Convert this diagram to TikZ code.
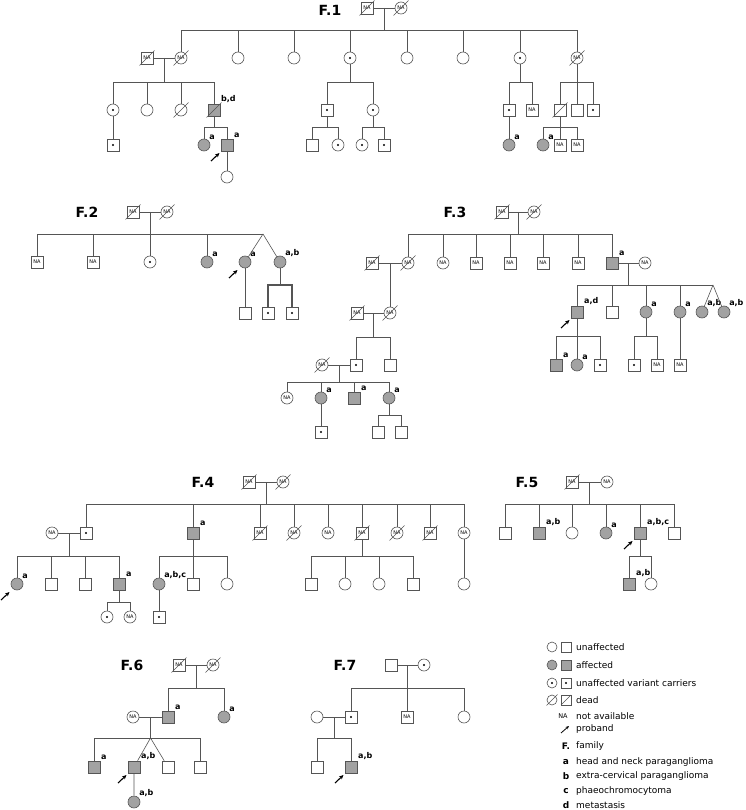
\documentclass[tikz,border=0pt]{standalone}
\usepackage{fontspec}
\setmainfont{DejaVu Sans}
\usetikzlibrary{arrows.meta,calc}

\definecolor{lnc}{HTML}{555555}
\definecolor{affc}{HTML}{A2A2A2}

\tikzset{
  pline/.style={draw=lnc, line width=0.6pt},
  thk/.style={draw=lnc, line width=1.2pt},
  ind/.style={draw=lnc, line width=0.6pt, fill=white, inner sep=0pt,
    minimum size=12pt, font=\fontsize{5}{5}\selectfont},
  male/.style={ind, rectangle},
  female/.style={ind, circle},
  aff/.style={fill=affc},
  car/.style={path picture={\fill[black] (path picture bounding box.center) circle (1.1pt);}},
  dead/.style={append after command={
    ([shift={(-#1,-#1)}]\tikzlastnode.center) edge[pline]
    ([shift={(#1,#1)}]\tikzlastnode.center)}},
  dead/.default=7.5pt,
  parrow/.style={-{Stealth[length=4.5pt,width=4pt]}, line width=1.1pt, black},
  proband/.style={append after command={
    ([shift={(-16pt,-16pt)}]\tikzlastnode.center) edge[parrow]
    ([shift={(-7.5pt,-8pt)}]\tikzlastnode.center)}},
  lab/.style={font=\bfseries\fontsize{8}{8}\selectfont, inner sep=0.6pt},
  ttl/.style={font=\bfseries\fontsize{14}{14}\selectfont},
  lsym/.style={minimum size=10pt},
  leg/.style={font=\fontsize{9}{9}\selectfont, anchor=west, inner sep=0pt},
}

\begin{document}
\begin{tikzpicture}[x=1pt,y=-1pt]
\useasboundingbox[fill=white] (0,0) rectangle (745,810);

% F.1
\node[ttl] (f1t) at (330,10) {F.1};
\node[male,dead] (f1a) at (367,8) {NA};
\node[female,dead] (f1b) at (401,8) {NA};
\node[male,dead] (f1s1) at (147,58) {NA};
\node[female,dead] (f1c1) at (181,58) {NA};
\node[female] (f1c2) at (238,58) {};
\node[female] (f1c3) at (294,58) {};
\node[female,car] (f1c4) at (350,58) {};
\node[female] (f1c5) at (407,58) {};
\node[female] (f1c6) at (463,58) {};
\node[female,car] (f1c7) at (520,58) {};
\node[female,dead] (f1c8) at (577,58) {NA};
\coordinate (f1j) at ($(f1a)!0.5!(f1b)+(0,22)$);
\draw[pline] (f1a) -- (f1b) ($(f1a)!0.5!(f1b)$) -- (f1j) (f1c1 |- f1j) -- (f1c8 |- f1j);
\foreach \k in {1,...,8} \draw[pline] (f1c\k) -- (f1c\k |- f1j);
% F.1 branch of first daughter
\node[female,car] (f1d1) at (113,110) {};
\node[female] (f1d2) at (147,110) {};
\node[female,dead] (f1d3) at (181,110) {};
\node[male,aff,dead,label={[lab]45:{b,d}}] (f1d4) at (214,110) {};
\coordinate (f1k) at ($(f1s1)!0.5!(f1c1)+(0,24)$);
\draw[pline] (f1s1) -- (f1c1) ($(f1s1)!0.5!(f1c1)$) -- (f1k) (f1d1 |- f1k) -- (f1d4 |- f1k);
\foreach \k in {1,...,4} \draw[pline] (f1d\k) -- (f1d\k |- f1k);
\node[male,car] (f1e1) at (113,145) {};
\node[female,aff,label={[lab]45:a}] (f1e2) at (204,145) {};
\node[male,aff,proband,label={[lab]45:a}] (f1e3) at (227,145) {};
\node[female] (f1f1) at (227,177) {};
\coordinate (f1l) at ($(f1d4)+(0,17)$);
\draw[pline] (f1d1) -- (f1e1) (f1e3) -- (f1f1) (f1d4) -- (f1l) (f1e2 |- f1l) -- (f1e3 |- f1l);
\foreach \k in {f1e2,f1e3} \draw[pline] (\k) -- (\k |- f1l);
% F.1 carrier daughter
\node[male,car] (f1d5) at (327,110) {};
\node[female,car] (f1d6) at (373,110) {};
\coordinate (f1m) at ($(f1c4)+(0,24)$);
\draw[pline] (f1c4) -- (f1m) (f1d5 |- f1m) -- (f1d6 |- f1m);
\foreach \k in {f1d5,f1d6} \draw[pline] (\k) -- (\k |- f1m);
\node[male] (f1e4) at (312,145) {};
\node[female,car] (f1e5) at (338,145) {};
\node[female,car] (f1e6) at (362,145) {};
\node[male,car] (f1e7) at (384,145) {};
\coordinate (f1n) at ($(f1d5)+(0,17)$);
\coordinate (f1o) at ($(f1d6)+(0,17)$);
\draw[pline] (f1d5) -- (f1n) (f1e4 |- f1n) -- (f1e5 |- f1n) (f1d6) -- (f1o) (f1e6 |- f1o) -- (f1e7 |- f1o);
\foreach \k in {f1e4,f1e5,f1e6,f1e7} \draw[pline] (\k) -- (\k |- f1n);
% F.1 second carrier daughter
\node[male,car] (f1d7) at (509,110) {};
\node[male] (f1d8) at (532,110) {NA};
\node[female,aff,label={[lab]45:a}] (f1e8) at (509,145) {};
\coordinate (f1p) at ($(f1c7)+(0,24)$);
\draw[pline] (f1c7) -- (f1p) (f1d7 |- f1p) -- (f1d8 |- f1p) (f1d7) -- (f1e8);
\foreach \k in {f1d7,f1d8} \draw[pline] (\k) -- (\k |- f1p);
% F.1 last daughter
\node[male,dead] (f1d9) at (560,110) {};
\node[male] (f1d10) at (577,110) {};
\node[male,car] (f1d11) at (593,110) {};
\coordinate (f1q) at ($(f1c8)+(0,24)$);
\draw[pline] (f1c8) -- (f1q) (f1d9 |- f1q) -- (f1d11 |- f1q);
\foreach \k in {f1d9,f1d10,f1d11} \draw[pline] (\k) -- (\k |- f1q);
\node[female,aff,label={[lab]45:a}] (f1e9) at (543,145) {};
\node[male] (f1e10) at (560,145) {NA};
\node[male] (f1e11) at (577,145) {NA};
\coordinate (f1r) at ($(f1d9)+(0,17)$);
\draw[pline] (f1d9) -- (f1e10) (f1e9 |- f1r) -- (f1e11 |- f1r);
\foreach \k in {f1e9,f1e11} \draw[pline] (\k) -- (\k |- f1r);

% F.2
\node[ttl] (f2t) at (87,212) {F.2};
\node[male,dead] (f2a) at (133,212) {NA};
\node[female,dead] (f2b) at (167,212) {NA};
\node[male] (f2c1) at (37,262) {NA};
\node[male] (f2c2) at (93,262) {NA};
\node[female,car] (f2c3) at (150,262) {};
\node[female,aff,label={[lab]45:a}] (f2c4) at (207,262) {};
\node[female,aff,proband,label={[lab]45:a}] (f2c5) at (245,262) {};
\node[female,aff,label={[lab]45:{a,b}}] (f2c6) at (280,262) {};
\coordinate (f2j) at ($(f2a)!0.5!(f2b)+(0,22)$);
\coordinate (f2t2) at (263,234);
\draw[pline] (f2a) -- (f2b) ($(f2a)!0.5!(f2b)$) -- (f2j) (f2c1 |- f2j) -- (f2t2);
\foreach \k in {1,...,4} \draw[pline] (f2c\k) -- (f2c\k |- f2j);
\draw[pline] (f2t2) -- (f2c5) (f2t2) -- (f2c6);
\node[male] (f2d1) at (245,313) {};
\node[male,car] (f2d2) at (268,313) {};
\node[male,car] (f2d3) at (292,313) {};
\coordinate (f2k) at ($(f2c6)+(0,23)$);
\draw[pline] (f2c5) -- (f2d1) (f2c6) -- (f2k);
\draw[thk] (f2d2) -- (f2d2 |- f2k) -- (f2d3 |- f2k) -- (f2d3);

% F.3
\node[ttl] (f3t) at (455,212) {F.3};
\node[male,dead] (f3a) at (502,212) {NA};
\node[female,dead] (f3b) at (534,212) {NA};
\node[male,dead] (f3s1) at (372,263) {NA};
\node[female,dead] (f3c1) at (408,263) {NA};
\node[female] (f3c2) at (443,263) {NA};
\node[male] (f3c3) at (476,263) {NA};
\node[male] (f3c4) at (510,263) {NA};
\node[male] (f3c5) at (543,263) {NA};
\node[male] (f3c6) at (578,263) {NA};
\node[male,aff,label={[lab]45:a}] (f3c7) at (612,263) {};
\node[female] (f3s2) at (645,263) {NA};
\coordinate (f3j) at ($(f3a)!0.5!(f3b)+(0,22)$);
\draw[pline] (f3a) -- (f3b) ($(f3a)!0.5!(f3b)$) -- (f3j) (f3c1 |- f3j) -- (f3c7 |- f3j);
\foreach \k in {1,...,7} \draw[pline] (f3c\k) -- (f3c\k |- f3j);
% F.3 right branch
\node[male,aff,proband,label={[lab]45:{a,d}}] (f3d1) at (577,312) {};
\node[male] (f3d2) at (612,312) {};
\node[female,aff,label={[lab]45:a}] (f3d3) at (646,312) {};
\node[female,aff,label={[lab]45:a}] (f3d4) at (680,312) {};
\node[female,aff,label={[lab]45:{a,b}}] (f3d5) at (702,312) {};
\node[female,aff,label={[lab]45:{a,b}}] (f3d6) at (724,312) {};
\coordinate (f3k) at ($(f3c7)!0.5!(f3s2)+(0,22)$);
\coordinate (f3tw) at (713,285);
\draw[pline] (f3c7) -- (f3s2) ($(f3c7)!0.5!(f3s2)$) -- (f3k) (f3d1 |- f3k) -- (f3tw);
\foreach \k in {1,...,4} \draw[pline] (f3d\k) -- (f3d\k |- f3k);
\draw[pline] (f3tw) -- (f3d5) (f3tw) -- (f3d6);
\node[male,aff,label={[lab]45:a}] (f3e1) at (556,365) {};
\node[female,aff,label={[lab]45:a}] (f3e2) at (577,365) {};
\node[male,car] (f3e3) at (600,365) {};
\node[male,car] (f3e4) at (634,365) {};
\node[male] (f3e5) at (657,365) {NA};
\node[male] (f3e6) at (680,365) {NA};
\coordinate (f3l) at ($(f3d1)+(0,24)$);
\coordinate (f3m) at ($(f3d3)+(0,24)$);
\draw[pline] (f3d1) -- (f3e2) (f3e1 |- f3l) -- (f3e3 |- f3l) (f3d3) -- (f3m) (f3e4 |- f3m) -- (f3e5 |- f3m) (f3d4) -- (f3e6);
\foreach \k in {f3e1,f3e3,f3e4,f3e5} \draw[pline] (\k) -- (\k |- f3l);
% F.3 left branch
\node[male,dead] (f3s3) at (357,313) {NA};
\node[female,dead] (f3d7) at (390,313) {NA};
\draw[pline] (f3s1) -- (f3c1) ($(f3s1)!0.5!(f3c1)$) -- (f3d7) (f3s3) -- (f3d7);
\node[female,dead] (f3s4) at (322,365) {NA};
\node[male,car] (f3e7) at (356,365) {};
\node[male] (f3e8) at (390,365) {};
\coordinate (f3n) at ($(f3s3)!0.5!(f3d7)+(0,24)$);
\draw[pline] ($(f3s3)!0.5!(f3d7)$) -- (f3n) (f3e7 |- f3n) -- (f3e8 |- f3n);
\foreach \k in {f3e7,f3e8} \draw[pline] (\k) -- (\k |- f3n);
\node[female] (f3f1) at (287,398) {NA};
\node[female,aff,label={[lab]45:a}] (f3f2) at (321,398) {};
\node[male,aff,label={[lab]45:a}] (f3f3) at (354,398) {};
\node[female,aff,label={[lab]45:a}] (f3f4) at (389,398) {};
\coordinate (f3o) at ($(f3s4)!0.5!(f3e7)+(0,17)$);
\draw[pline] (f3s4) -- (f3e7) ($(f3s4)!0.5!(f3e7)$) -- (f3o) (f3f1 |- f3o) -- (f3f4 |- f3o);
\foreach \k in {1,...,4} \draw[pline] (f3f\k) -- (f3f\k |- f3o);
\node[male,car] (f3g1) at (321,432) {};
\node[male] (f3g2) at (378,432) {};
\node[male] (f3g3) at (401,432) {};
\coordinate (f3p) at ($(f3f4)+(0,17)$);
\draw[pline] (f3f2) -- (f3g1) (f3f4) -- (f3p) (f3g2 |- f3p) -- (f3g3 |- f3p);
\foreach \k in {f3g2,f3g3} \draw[pline] (\k) -- (\k |- f3p);

% F.4
\node[ttl] (f4t) at (203,482) {F.4};
\node[male,dead] (f4a) at (249,482) {NA};
\node[female,dead] (f4b) at (283,482) {NA};
\node[female] (f4s1) at (52,533) {NA};
\node[male,car] (f4c1) at (86,533) {};
\node[male,aff,label={[lab]45:a}] (f4c2) at (193,533) {};
\node[male,dead] (f4c3) at (260,533) {NA};
\node[female,dead] (f4c4) at (294,533) {NA};
\node[female] (f4c5) at (328,533) {NA};
\node[male,dead] (f4c6) at (362,533) {NA};
\node[female,dead] (f4c7) at (397,533) {NA};
\node[male,dead] (f4c8) at (430,533) {NA};
\node[female] (f4c9) at (464,533) {NA};
\coordinate (f4j) at ($(f4a)!0.5!(f4b)+(0,22)$);
\draw[pline] (f4a) -- (f4b) ($(f4a)!0.5!(f4b)$) -- (f4j) (f4c1 |- f4j) -- (f4c9 |- f4j);
\foreach \k in {1,...,9} \draw[pline] (f4c\k) -- (f4c\k |- f4j);
\node[female,aff,proband,label={[lab]45:a}] (f4d1) at (17,584) {};
\node[male] (f4d2) at (51,584) {};
\node[male] (f4d3) at (85,584) {};
\node[male,aff,label={[lab]45:a}] (f4d4) at (119,584) {};
\coordinate (f4k) at ($(f4s1)!0.5!(f4c1)+(0,23)$);
\draw[pline] (f4s1) -- (f4c1) ($(f4s1)!0.5!(f4c1)$) -- (f4k) (f4d1 |- f4k) -- (f4d4 |- f4k);
\foreach \k in {1,...,4} \draw[pline] (f4d\k) -- (f4d\k |- f4k);
\node[female,car] (f4e1) at (107,617) {};
\node[female] (f4e2) at (130,617) {NA};
\coordinate (f4l) at ($(f4d4)+(0,18)$);
\draw[pline] (f4d4) -- (f4l) (f4e1 |- f4l) -- (f4e2 |- f4l);
\foreach \k in {f4e1,f4e2} \draw[pline] (\k) -- (\k |- f4l);
\node[female,aff,label={[lab]45:{a,b,c}}] (f4d5) at (159,584) {};
\node[male] (f4d6) at (193,584) {};
\node[female] (f4d7) at (227,584) {};
\node[male,car] (f4e3) at (159,617) {};
\draw[pline] (f4c2) -- (f4d6) (f4d5 |- f4k) -- (f4d7 |- f4k) (f4d5) -- (f4e3);
\foreach \k in {f4d5,f4d7} \draw[pline] (\k) -- (\k |- f4k);
\node[male] (f4d8) at (311,584) {};
\node[female] (f4d9) at (345,584) {};
\node[female] (f4d10) at (379,584) {};
\node[male] (f4d11) at (413,584) {};
\node[female] (f4d12) at (464,584) {};
\draw[pline] (f4c6) -- (f4c6 |- f4k) (f4d8 |- f4k) -- (f4d11 |- f4k) (f4c9) -- (f4d12);
\foreach \k in {8,...,11} \draw[pline] (f4d\k) -- (f4d\k |- f4k);

% F.5
\node[ttl] (f5t) at (527,482) {F.5};
\node[male,dead] (f5a) at (572,482) {NA};
\node[female] (f5b) at (607,482) {NA};
\node[male] (f5c1) at (505,533) {};
\node[male,aff,label={[lab]45:{a,b}}] (f5c2) at (539,533) {};
\node[female] (f5c3) at (572,533) {};
\node[female,aff,label={[lab]45:a}] (f5c4) at (606,533) {};
\node[male,aff,proband,label={[lab]45:{a,b,c}}] (f5c5) at (640,533) {};
\node[male] (f5c6) at (674,533) {};
\coordinate (f5j) at ($(f5a)!0.5!(f5b)+(0,22)$);
\draw[pline] (f5a) -- (f5b) ($(f5a)!0.5!(f5b)$) -- (f5j) (f5c1 |- f5j) -- (f5c6 |- f5j);
\foreach \k in {1,...,6} \draw[pline] (f5c\k) -- (f5c\k |- f5j);
\node[male,aff,label={[lab]45:{a,b}}] (f5d1) at (629,584) {};
\node[female] (f5d2) at (651,584) {};
\coordinate (f5k) at ($(f5c5)+(0,23)$);
\draw[pline] (f5c5) -- (f5k) (f5d1 |- f5k) -- (f5d2 |- f5k);
\foreach \k in {f5d1,f5d2} \draw[pline] (\k) -- (\k |- f5k);

% F.6
\node[ttl] (f6t) at (132,665) {F.6};
\node[male,dead] (f6a) at (179,665) {NA};
\node[female,dead] (f6b) at (213,665) {NA};
\node[female] (f6s1) at (133,717) {NA};
\node[male,aff,label={[lab]45:a}] (f6c1) at (168,717) {};
\node[female,aff,label={[lab]45:a}] (f6c2) at (224,717) {};
\coordinate (f6j) at ($(f6a)!0.5!(f6b)+(0,23)$);
\draw[pline] (f6a) -- (f6b) ($(f6a)!0.5!(f6b)$) -- (f6j) (f6c1 |- f6j) -- (f6c2 |- f6j);
\foreach \k in {1,2} \draw[pline] (f6c\k) -- (f6c\k |- f6j);
\node[male,aff,label={[lab]45:a}] (f6d1) at (94,767) {};
\node[male,aff,proband,label={[lab]45:{a,b}}] (f6d2) at (134,767) {};
\node[male] (f6d3) at (168,767) {};
\node[male] (f6d4) at (200,767) {};
\node[female,aff,label={[lab]45:{a,b}}] (f6e1) at (134,802) {};
\coordinate (f6k) at ($(f6s1)!0.5!(f6c1)+(0,21)$);
\draw[pline] (f6s1) -- (f6c1) ($(f6s1)!0.5!(f6c1)$) -- (f6k) (f6d1 |- f6k) -- (f6d4 |- f6k);
\draw[pline] (f6k) -- (f6d2) (f6k) -- (f6d3) (f6d2) -- (f6e1);
\foreach \k in {f6d1,f6d4} \draw[pline] (\k) -- (\k |- f6k);

% F.7
\node[ttl] (f7t) at (345,665) {F.7};
\node[male] (f7a) at (391,665) {};
\node[female,car] (f7b) at (424,665) {};
\node[female] (f7s1) at (317,717) {};
\node[male,car] (f7c1) at (351,717) {};
\node[male] (f7c2) at (407,717) {NA};
\node[female] (f7c3) at (464,717) {};
\coordinate (f7j) at ($(f7a)!0.5!(f7b)+(0,23)$);
\draw[pline] (f7a) -- (f7b) ($(f7a)!0.5!(f7b)$) -- (f7j) (f7c1 |- f7j) -- (f7c3 |- f7j);
\foreach \k in {1,2,3} \draw[pline] (f7c\k) -- (f7c\k |- f7j);
\node[male] (f7d1) at (317,767) {};
\node[male,aff,proband,label={[lab]45:{a,b}}] (f7d2) at (351,767) {};
\coordinate (f7k) at ($(f7s1)!0.5!(f7c1)+(0,21)$);
\draw[pline] (f7s1) -- (f7c1) ($(f7s1)!0.5!(f7c1)$) -- (f7k) (f7d1 |- f7k) -- (f7d2 |- f7k);
\foreach \k in {f7d1,f7d2} \draw[pline] (\k) -- (\k |- f7k);

% Legend
\node[female,lsym] (l1a) at (552,647) {};
\node[male,lsym] (l1b) at (566,647) {};
\node[leg] (l1) at (576,647) {unaffected};
\node[female,lsym,aff] (l2a) at (552,665) {};
\node[male,lsym,aff] (l2b) at (566,665) {};
\node[leg] (l2) at (576,665) {affected};
\node[female,lsym,car] (l3a) at (552,683) {};
\node[male,lsym,car] (l3b) at (566,683) {};
\node[leg] (l3) at (576,683) {unaffected variant carriers};
\node[female,lsym,dead=5.5pt] (l4a) at (552,700) {};
\node[male,lsym,dead=5pt] (l4b) at (566,700) {};
\node[leg] (l4) at (576,700) {dead};
\node[font=\fontsize{6.5}{6.5}\selectfont] (l5a) at (563,716) {NA};
\node[leg] (l5) at (576,716) {not available};
\coordinate (l6s) at (561,733);
\coordinate (l6e) at (569,726);
\draw[-{Stealth[length=3.5pt,width=3pt]}, line width=0.8pt] (l6s) -- (l6e);
\node[leg] (l6) at (576,729) {proband};
\node[font=\bfseries\fontsize{9}{9}\selectfont] (l7a) at (566,746) {F.};
\node[leg] (l7) at (576,746) {family};
\foreach \t/\s/\y in {a/head and neck paraganglioma/762, b/extra-cervical paraganglioma/776,
                      c/phaeochromocytoma/791, d/metastasis/805}
  \node[leg] at (576,\y) {\s};
\foreach \t/\y in {a/762,b/776,c/791,d/805}
  \node[font=\bfseries\fontsize{9}{9}\selectfont] at (566,\y) {\t};
\end{tikzpicture}
\end{document}
